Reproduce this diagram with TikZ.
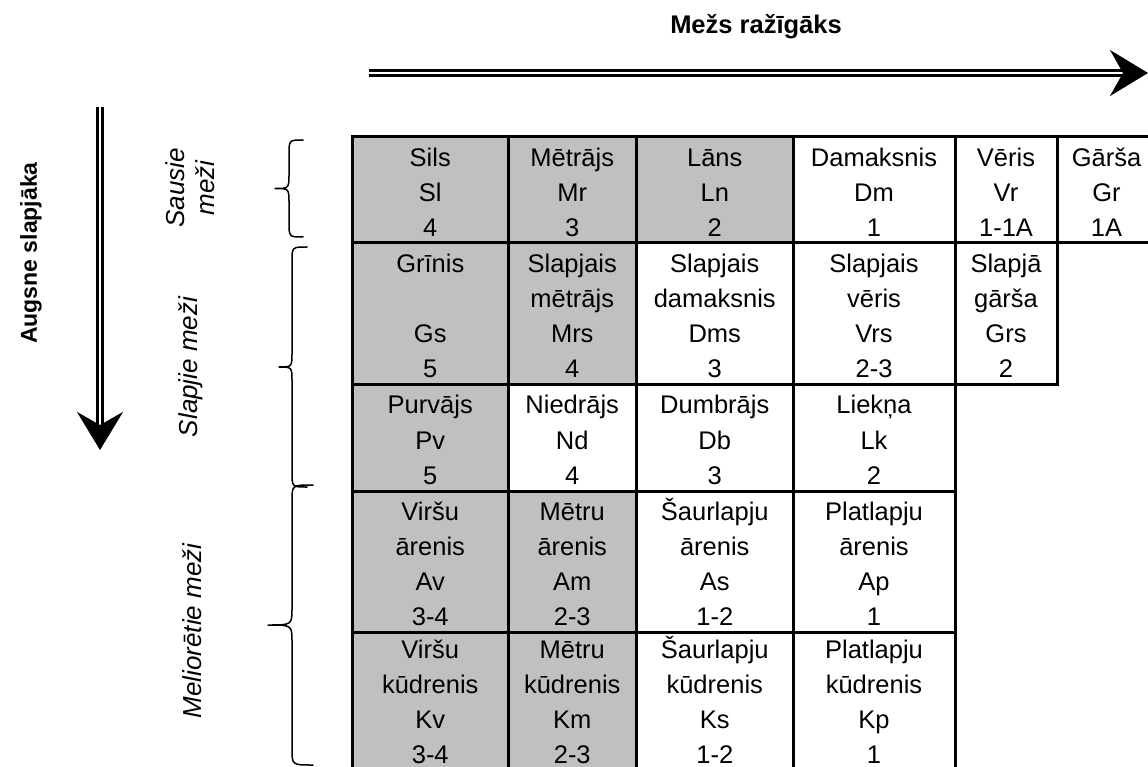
\documentclass[tikz,border=0pt]{standalone}
\usepackage{fontspec}
\setmainfont{Liberation Sans}
\usetikzlibrary{arrows.meta}
\definecolor{cellgray}{HTML}{C0C0C0}
\newcommand\cs{\rule[-6pt]{0pt}{35.2pt}}
\newcommand\cz{\rule[-9pt]{0pt}{35.2pt}}
\newcommand\tcell[7]{%
  \node[cellbox, fill=#6, minimum width={(#3)-(#2)}, minimum height={(#5)-(#4)}] (#1)
    at ({((#2)+(#3))/2},{((#4)+(#5))/2}) {#7};}
\tikzset{
  cellbox/.style={draw=black, line width=3pt, rectangle, inner sep=0pt, outer sep=0pt,
    align=center, font=\fontsize{25.5}{35.2}\selectfont},
  dblarrow/.style={line width=2.6pt, double=white, double distance=2.8pt,
    -{Stealth[length=38pt, width=46pt, inset=13pt]}},
  bracestyle/.style={line width=1.5pt, line join=round, line cap=round},
  sidelabel/.style={rotate=90, font=\fontsize{26}{30}\selectfont\itshape, align=center, inner sep=0pt},
  titlelabel/.style={font=\fontsize{25.5}{28}\selectfont\bfseries, inner sep=0pt},
  soillabel/.style={rotate=90, font=\fontsize{23}{26}\selectfont\bfseries, inner sep=0pt}
}
\begin{document}
\begin{tikzpicture}[x=1pt, y=-1pt]
\useasboundingbox (0,0) rectangle (1148,767);
% row 1
\tcell{sils}{352.5}{508}{137}{243}{cellgray}{\cs Sils\\\cs Sl\\\cs 4}
\tcell{metrajs}{508}{636.5}{137}{243}{cellgray}{\cs Mētrājs\\\cs Mr\\\cs 3}
\tcell{lans}{636.5}{793}{137}{243}{cellgray}{\cs Lāns\\\cs Ln\\\cs 2}
\tcell{damaksnis}{793}{955}{137}{243}{white}{\cs Damaksnis\\\cs Dm\\\cs 1}
\tcell{veris}{955}{1057}{137}{243}{white}{\cs Vēris\\\cs Vr\\\cs 1-1A}
\tcell{garsa}{1057}{1156}{137}{243}{white}{\cs Gārša\\\cs Gr\\\cs 1A}
% row 2
\tcell{grinis}{352.5}{508}{243}{384}{cellgray}{\cs Grīnis\\\cs\\\cs Gs\\\cs 5}
\tcell{slmetrajs}{508}{636.5}{243}{384}{cellgray}{\cs Slapjais\\\cs mētrājs\\\cs Mrs\\\cs 4}
\tcell{sldamaksnis}{636.5}{793}{243}{384}{white}{\cs Slapjais\\\cs damaksnis\\\cs Dms\\\cs 3}
\tcell{slveris}{793}{955}{243}{384}{white}{\cs Slapjais\\\cs vēris\\\cs Vrs\\\cs 2-3}
\tcell{slgarsa}{955}{1057}{243}{384}{white}{\cs Slapjā\\\cs gārša\\\cs Grs\\\cs 2}
% row 3
\tcell{purvajs}{352.5}{508}{384}{491}{cellgray}{\cs Purvājs\\\cs Pv\\\cs 5}
\tcell{niedrajs}{508}{636.5}{384}{491}{white}{\cs Niedrājs\\\cs Nd\\\cs 4}
\tcell{dumbrajs}{636.5}{793}{384}{491}{white}{\cs Dumbrājs\\\cs Db\\\cs 3}
\tcell{liekna}{793}{955}{384}{491}{white}{\cs Liekņa\\\cs Lk\\\cs 2}
% row 4
\tcell{virsuarenis}{352.5}{508}{491}{632}{cellgray}{\cs Viršu\\\cs ārenis\\\cs Av\\\cs 3-4}
\tcell{metruarenis}{508}{636.5}{491}{632}{cellgray}{\cs Mētru\\\cs ārenis\\\cs Am\\\cs 2-3}
\tcell{saurarenis}{636.5}{793}{491}{632}{white}{\cs Šaurlapju\\\cs ārenis\\\cs As\\\cs 1-2}
\tcell{platarenis}{793}{955}{491}{632}{white}{\cs Platlapju\\\cs ārenis\\\cs Ap\\\cs 1}
% row 5
\tcell{virsukud}{352.5}{508}{632}{773}{cellgray}{\cz Viršu\\\cz kūdrenis\\\cz Kv\\\cz 3-4}
\tcell{metrukud}{508}{636.5}{632}{773}{cellgray}{\cz Mētru\\\cz kūdrenis\\\cz Km\\\cz 2-3}
\tcell{saurkud}{636.5}{793}{632}{773}{white}{\cz Šaurlapju\\\cz kūdrenis\\\cz Ks\\\cz 1-2}
\tcell{platkud}{793}{955}{632}{773}{white}{\cz Platlapju\\\cz kūdrenis\\\cz Kp\\\cz 1}
% arrows
\node[titlelabel] (title) at (756,27) {Mežs ražīgāks};
\coordinate (hstart) at (369,73);
\coordinate (hend) at (1148,73);
\draw[dblarrow] (hstart) -- (hend);
\node[soillabel] (soil) at (31,253) {Augsne slapjāka};
\coordinate (vstart) at (100,107);
\coordinate (vend) at (100,450);
\draw[dblarrow] (vstart) -- (vend);
% side labels
\node[sidelabel] (sausie) at (190,188) {Sausie\\meži};
\node[sidelabel] (slapjie) at (191,367) {Slapjie meži};
\node[sidelabel] (melior) at (192,631) {Meliorētie meži};
% braces
\draw[bracestyle] (303,140) .. controls (289,140) .. (289,155) -- (289,173.5)
  .. controls (289,188.5) .. (275,188.5) .. controls (289,188.5) .. (289,203.5)
  -- (289,222) .. controls (289,237) .. (303,237);
\draw[bracestyle] (307,247) .. controls (292,247) .. (292,262) -- (292,352)
  .. controls (292,367) .. (279,367) .. controls (292,367) .. (292,382)
  -- (292,472) .. controls (292,487) .. (307,487);
\draw[bracestyle] (313,485) .. controls (292,485) .. (292,501) -- (292,608)
  .. controls (292,625) .. (268,625) .. controls (292,625) .. (292,642)
  -- (292,749) .. controls (292,765) .. (313,765);
\end{tikzpicture}
\end{document}
